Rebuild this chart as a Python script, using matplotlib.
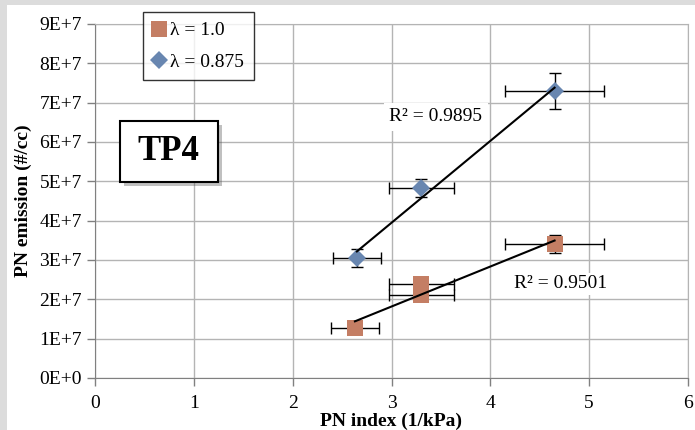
import matplotlib
matplotlib.use('Agg')
import matplotlib.pyplot as plt
import matplotlib.patheffects as pe
from matplotlib.patches import Rectangle
import numpy as np

plt.rcParams['font.family'] = 'Liberation Serif'

# lambda = 1.0 (orange squares)
x_l1 = [2.63, 3.30, 3.30, 4.65]
y_l1 = [1.27e7, 2.39e7, 2.11e7, 3.41e7]
xerr_l1 = [0.24, 0.33, 0.33, 0.50]
yerr_l1 = [0.05e7, 0.05e7, 0.05e7, 0.23e7]

# lambda = 0.875 (blue diamonds)
x_l2 = [2.65, 3.30, 4.65]
y_l2 = [3.05e7, 4.82e7, 7.30e7]
xerr_l2 = [0.24, 0.33, 0.50]
yerr_l2 = [0.24e7, 0.23e7, 0.45e7]

r2_l1 = 0.9501
r2_l2 = 0.9895

ytick_vals = [0, 1e7, 2e7, 3e7, 4e7, 5e7, 6e7, 7e7, 8e7, 9e7]
ytick_labels = ['0E+0', '1E+7', '2E+7', '3E+7', '4E+7', '5E+7', '6E+7', '7E+7', '8E+7', '9E+7']
xtick_vals = [0, 1, 2, 3, 4, 5, 6]

c_or = '#c47e64'
c_bl = '#6886b0'

fig = plt.figure(figsize=(6.95, 4.30), dpi=100)
fig.patch.set_facecolor('#dcdcdc')
fig.patches.append(Rectangle((7/695, 0), 1, 1 - 5/430, transform=fig.transFigure,
                             facecolor='white', edgecolor='none', zorder=-10))

ax = fig.add_axes([95/695, 1 - 378/430, 593/695, 354/430])
ax.set_xlim(0, 6)
ax.set_ylim(0, 9e7)
ax.set_xticks(xtick_vals)
ax.set_yticks(ytick_vals)
ax.set_yticklabels(ytick_labels)
ax.tick_params(labelsize=14, length=6, color='#808080', width=1)
ax.tick_params(axis='x', pad=6)
ax.grid(True, color='#b4b4b4', lw=1)
ax.set_axisbelow(True)
for s in ['top', 'right']:
    ax.spines[s].set_color('#b4b4b4')
for s in ['left', 'bottom']:
    ax.spines[s].set_color('#808080')

# error bars
ax.errorbar(x_l1, y_l1, xerr=xerr_l1, yerr=yerr_l1, fmt='none', ecolor='black',
            elinewidth=1, capsize=4, zorder=3)
ax.errorbar(x_l2, y_l2, xerr=xerr_l2, yerr=yerr_l2, fmt='none', ecolor='black',
            elinewidth=1, capsize=4, zorder=3)

# markers
ax.plot(x_l1, y_l1, 's', color=c_or, markersize=11, markeredgewidth=0, zorder=4, label='λ = 1.0')
ax.plot(x_l2, y_l2, 'D', color=c_bl, markersize=9, markeredgewidth=0, zorder=4, label='λ = 0.875')

# linear trendlines
for xs, ys in [(x_l1, y_l1), (x_l2, y_l2)]:
    p = np.polyfit(xs, ys, 1)
    xx = np.array([min(xs), max(xs)])
    ax.plot(xx, np.polyval(p, xx), color='black', lw=1.5, zorder=5)

ax.text(3.45, 6.64e7, 'R² = %.4f' % r2_l2, fontsize=14, ha='center', va='center',
        bbox=dict(facecolor='white', edgecolor='none', pad=4), zorder=6)
ax.text(4.71, 2.39e7, 'R² = %.4f' % r2_l1, fontsize=14, ha='center', va='center',
        bbox=dict(facecolor='white', edgecolor='none', pad=2), zorder=6)

# TP4 box
box = Rectangle((0.042, 0.554), 0.165, 0.172, transform=ax.transAxes, facecolor='white',
                edgecolor='black', lw=1.5, zorder=7)
box.set_path_effects([pe.SimplePatchShadow(offset=(3, -3), alpha=0.35), pe.Normal()])
ax.add_patch(box)
ax.text(0.1245, 0.640, 'TP4', transform=ax.transAxes, fontsize=25, fontweight='bold',
        ha='center', va='center', zorder=8)

ax.set_xlabel('PN index (1/kPa)', fontsize=14, fontweight='bold', labelpad=1)
ax.set_ylabel('PN emission (#/cc)', fontsize=14, fontweight='bold', labelpad=5)

leg = ax.legend(loc='upper left', bbox_to_anchor=(143/695, 1 - 12/430),
                bbox_transform=fig.transFigure, fontsize=14, frameon=True, fancybox=False,
                handlelength=0.6, handletextpad=0.3, borderpad=0.5, labelspacing=0.7,
                borderaxespad=0)
leg.get_frame().set_edgecolor('black')
leg.get_frame().set_linewidth(1)
leg.set_zorder(10)

fig.savefig('out.png', dpi=100)
